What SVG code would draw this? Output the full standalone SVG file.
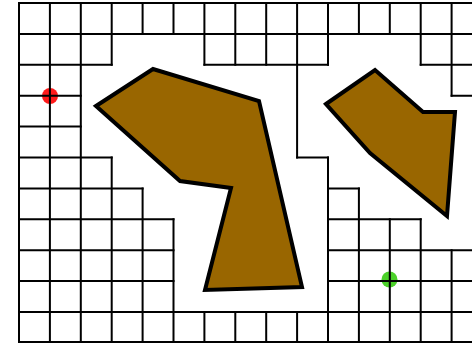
<svg xmlns="http://www.w3.org/2000/svg" width="472" height="343" viewBox="0 0 472 343">
<style>
.grid{fill:none;stroke:#000;stroke-width:2;stroke-linecap:square}
.obs{fill:#996600;stroke:#000;stroke-width:4;stroke-linejoin:miter}
</style>
<rect width="472" height="343" fill="#fff"/>
<g id="start"><circle cx="50" cy="96" r="8" fill="#ff1a1a"/></g>
<g id="goal"><circle cx="389.5" cy="279.5" r="8" fill="#4cd12a"/></g>
<g id="grid">
<path class="grid" d="M19 3H472 M19 33.9H472 M19 64.8H111.7 M204.4 64.8H328 M420.7 64.8H472 M19 95.7H80.8 M451.6 95.7H472 M19 126.6H80.8 M19 157.5H111.7 M297.1 157.5H328 M19 188.4H142.6 M328 188.4H358.9 M19 219.3H173.5 M328 219.3H420.7 M19 250.2H173.5 M328 250.2H472 M19 281.1H173.5 M328 281.1H472 M19 312H472 M19 342H472"/>
<path class="grid" d="M19 3V342 M49.9 3V342 M80.8 3V342 M111.7 3V64.8 M111.7 157.5V342 M142.6 3V33.9 M142.6 188.4V342 M173.5 3V33.9 M173.5 219.3V342 M204.4 3V64.8 M204.4 312V342 M235.3 3V64.8 M235.3 312V342 M266.2 3V64.8 M266.2 312V342 M297.1 3V157.5 M297.1 312V342 M328 3V64.8 M328 157.5V342 M358.9 3V33.9 M358.9 188.4V342 M389.8 3V33.9 M389.8 219.3V342 M420.7 3V64.8 M420.7 219.3V342 M451.6 3V95.7 M451.6 250.2V342"/>
</g>
<g id="obstacle1">
<polygon class="obs" points="96,106 153,69 259,101 302,287 205,290 231,188 180,181"/>
</g>
<g id="obstacle2">
<polygon class="obs" points="326,104 375,70 423,112 455,112 447,216 370,153"/>
</g>
</svg>
